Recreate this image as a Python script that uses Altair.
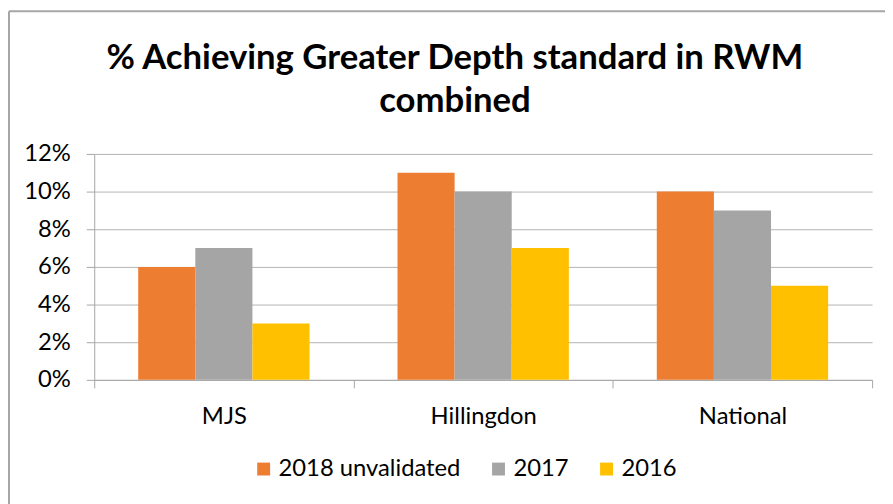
import altair as alt
import pandas as pd

categories = ["MJS", "Hillingdon", "National"]
series = ["2018 unvalidated", "2017", "2016"]
values_2018 = [0.06, 0.11, 0.10]
values_2017 = [0.07, 0.10, 0.09]
values_2016 = [0.03, 0.07, 0.05]
colors = ["#ED7D31", "#A5A5A5", "#FFC000"]
title_lines = ["% Achieving Greater Depth standard in RWM", "combined"]

rows = []
for s, vals in zip(series, [values_2018, values_2017, values_2016]):
    for c, v in zip(categories, vals):
        rows.append({"cat": c, "series": s, "value": v})
df = pd.DataFrame(rows)

FONT = "Lato"
W, H = 785, 228

bars = alt.Chart(df).mark_bar().encode(
    x=alt.X("cat:N", sort=categories, title=None,
            scale=alt.Scale(paddingInner=0, paddingOuter=0),
            axis=alt.Axis(labelAngle=0, labelFontSize=24, labelFont=FONT, labelColor="#000000",
                          tickBand="extent", tickSize=8, tickColor="#A6A6A6",
                          domainColor="#A6A6A6", labelPadding=17, grid=False)),
    xOffset=alt.XOffset("series:N", sort=series,
                        scale=alt.Scale(paddingInner=0, paddingOuter=0.77)),
    y=alt.Y("value:Q", title=None,
            scale=alt.Scale(domain=[0, 0.12], nice=False),
            axis=alt.Axis(format=".0%", values=[0, 0.02, 0.04, 0.06, 0.08, 0.10, 0.12],
                          labelFontSize=24, labelFont=FONT, labelColor="#000000",
                          tickSize=8, tickColor="#A6A6A6", domainColor="#A6A6A6",
                          gridColor="#B3B3B3", labelPadding=16)),
    color=alt.Color("series:N", sort=series,
                    scale=alt.Scale(domain=series, range=colors),
                    legend=alt.Legend(title=None, orient="none", direction="horizontal",
                                      legendX=159, legendY=306,
                                      symbolType="square", symbolSize=169,
                                      symbolStrokeWidth=0, labelLimit=0,
                                      labelFontSize=24, labelFont=FONT, labelColor="#000000",
                                      columnPadding=26, labelOffset=3)),
)

tdf = pd.DataFrame({"line": title_lines, "i": [0, 1]})
title1 = alt.Chart(tdf).transform_filter("datum.i == 0").mark_text(
    font=FONT, fontSize=35, fontWeight="bold", color="#000000", baseline="middle", align="center"
).encode(text="line:N", x=alt.value(364), y=alt.value(-97))
title2 = alt.Chart(tdf).transform_filter("datum.i == 1").mark_text(
    font=FONT, fontSize=35, fontWeight="bold", color="#000000", baseline="middle", align="center"
).encode(text="line:N", x=alt.value(364), y=alt.value(-53))

border = alt.Chart(pd.DataFrame({"a": [0]})).mark_rule(color="#A6A6A6", strokeWidth=2).encode(
    x=alt.value(-86), x2=alt.value(W + 20), y=alt.value(-144)
)
border_left = alt.Chart(pd.DataFrame({"a": [0]})).mark_rule(color="#A6A6A6", strokeWidth=2).encode(
    x=alt.value(-86), y=alt.value(-144), y2=alt.value(H + 130)
)

chart = alt.layer(bars, border, border_left, title1, title2).properties(
    width=W, height=H,
    autosize=alt.AutoSizeParams(type="none"),
    padding={"left": 87, "top": 145, "right": 13, "bottom": 123},
).configure_view(stroke=None)

chart.save("out.html", embed_options={"renderer": "svg", "actions": False})
